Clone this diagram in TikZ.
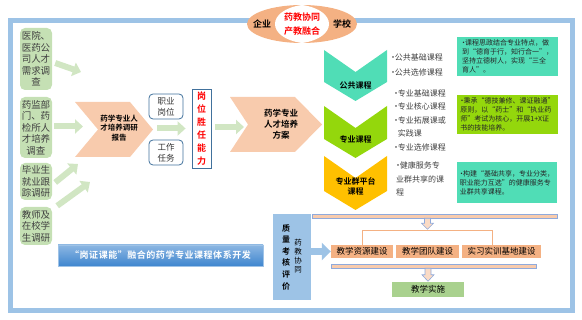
\documentclass[tikz,border=0pt]{standalone}
\usepackage{fontspec}
\setmainfont{Noto Sans CJK SC}[BoldFont={Noto Sans CJK SC Bold}]
\usetikzlibrary{arrows.meta,positioning,calc}
\definecolor{frameblue}{HTML}{9DC3E6}
\definecolor{leafgreen}{HTML}{C5E0B4}
\definecolor{peach}{HTML}{F8CBAD}
\definecolor{salmon}{HTML}{F4B183}
\definecolor{edgeblue}{HTML}{41719C}
\definecolor{barblue}{HTML}{8FAADC}
\definecolor{mint}{HTML}{50DDB6}
\definecolor{lime}{HTML}{94D70C}
\definecolor{gold}{HTML}{FFC000}
\definecolor{bannerblue}{HTML}{3F86CF}
\definecolor{sage}{HTML}{A9D18E}
\newcommand{\itemdot}{\makebox[0.45em]{•}}

\begin{document}
\begin{tikzpicture}[
    x=1pt, y=-1pt,
    srcbox/.style={rectangle, rounded corners=5pt, fill=leafgreen, minimum width=32, inner sep=0pt, align=center, text=black!75, font=\fontsize{9.5}{11.5}\selectfont},
    flow/.style={line width=6pt, draw=leafgreen!80, -{Triangle[width=14pt, length=8pt]}},
    postbox/.style={rectangle, rounded corners=4pt, draw=edgeblue, line width=0.8pt, fill=white, minimum width=34, minimum height=25, inner sep=0pt, align=center, text=black!80, font=\fontsize{8.5}{11}\selectfont},
    chevtext/.style={align=center, inner sep=0pt, font=\bfseries\fontsize{8}{10}\selectfont},
    headtext/.style={inner sep=0pt, align=center, font=\bfseries\fontsize{9}{14}\selectfont},
    courselist/.style={align=left, anchor=west, inner sep=0pt, text=black!75},
    note/.style={rectangle, minimum width=101, inner sep=0pt, align=left, text=black!85, font=\fontsize{7}{9}\selectfont},
    bar/.style={rectangle, fill=peach, draw=barblue, line width=0.6pt, minimum height=4, inner sep=0pt},
    buildbox/.style={rectangle, fill=salmon, minimum height=13, inner sep=0pt, font=\fontsize{8.5}{10}\selectfont},
    downarrow/.style={fill=peach!70, draw=barblue, line width=0.6pt}
]
    \useasboundingbox (0,0) rectangle (582,320);

    % Outer frame
    \draw[line width=5pt, frameblue] (10.5,20.5) rectangle (572.5,310.5);

    % Enterprise and school
    \fill[salmon] (302,24) ellipse [x radius=55, y radius=19];
    \begin{scope}
        \clip (302,24) ellipse [x radius=55, y radius=19];
        \fill[white] (302,5) .. controls (266,10) and (266,38) .. (302,43) .. controls (338,38) and (338,10) .. (302,5);
    \end{scope}
    \node[headtext] (ent) at (262,24) {企业};
    \node[headtext] (sch) at (342,24) {学校};
    \node[headtext, text=red] (union) at (302,24) {药教协同\\产教融合};

    % Surveys
    \node[srcbox, minimum height=62] (hosp) at (36,59) {医院、\\医药公\\司人才\\需求调\\查};
    \node[srcbox, minimum height=61] (drug) at (36,127.5) {药监部\\门、药\\检所人\\才培养\\调查};
    \node[srcbox, minimum height=37] (grad) at (36,181.5) {毕业生\\就业跟\\踪调研};
    \node[srcbox, minimum height=38] (teach) at (36,226) {教师及\\在校学\\生调研};

    % Research report
    \fill[peach] (75,102) -- (130,102) -- (153,129.5) -- (130,157) -- (75,157) -- (98,129.5) -- cycle;
    \node[chevtext, font=\bfseries\fontsize{7.5}{9.5}\selectfont] (report) at (119,128) {药学专业人\\才培养调研\\报告};
    \coordinate (repin1) at (81,72);
    \coordinate (repin2) at (83,126.5);
    \coordinate (repin3) at (78,164);
    \coordinate (repin4) at (90,182);
    \coordinate (reptip) at (153,128.5);

    \draw[flow] ([shift={(3,4)}]hosp.east) -- (repin1);
    \draw[flow] ([shift={(2,-1)}]drug.east) -- (repin2);
    \draw[flow] ([shift={(3,1)}]grad.east) -- (repin3);
    \draw[flow] ([shift={(5,-1)}]teach.north east) -- (repin4);

    % Posts and tasks
    \node[postbox] (post) at (166,106.5) {职业\\岗位};
    \node[postbox] (task) at (166,152.5) {工作\\任务};
    \node[rectangle, draw=edgeblue, line width=0.8pt, minimum width=19, minimum height=79, inner sep=0pt, align=center, text=red, font=\bfseries\fontsize{9}{13}\selectfont] (comp) at (201.5,128.5) {岗\\位\\胜\\任\\能\\力};
    \draw[flow] ([xshift=4]reptip) -- ([xshift=-6]comp.west |- reptip);

    % Training plan
    \fill[peach] (230,97) -- (295,97) -- (322,124.5) -- (295,152) -- (230,152) -- (248,124.5) -- cycle;
    \node[chevtext, font=\bfseries\fontsize{8.5}{11}\selectfont] (plan) at (281,124) {药学专业\\人才培养\\方案};
    \coordinate (planin) at (244,127);
    \draw[flow] ([shift={(4,-1.5)}]comp.east) -- (planin);

    % Course modules
    \fill[mint] (324,50) -- (355.5,72) -- (387,50) -- (387,82) -- (355.5,101) -- (324,82) -- cycle;
    \fill[lime] (324,106) -- (355.5,128) -- (387,106) -- (387,139) -- (355.5,158) -- (324,139) -- cycle;
    \fill[gold] (324,156) -- (355.5,178) -- (387,156) -- (387,191) -- (355.5,210) -- (324,191) -- cycle;
    \node[chevtext] (pub) at (355.5,85) {公共课程};
    \node[chevtext] (major) at (355.5,139) {专业课程};
    \node[chevtext] (group) at (355.5,186) {专业群平台\\课程};

    \node[courselist, font=\fontsize{8}{15}\selectfont] (publist) at (391,64.5) {\itemdot 公共基础课程\\\itemdot 公共选修课程};
    \node[courselist, font=\fontsize{8}{13.5}\selectfont] (majlist) at (394,120) {\itemdot 专业基础课程\\\itemdot 专业核心课程\\\itemdot 专业拓展课或\\\hspace*{0.45em}实践课\\\itemdot 专业选修课程};
    \node[courselist, font=\fontsize{8}{13.5}\selectfont] (grplist) at (396,179) {\itemdot 健康服务专\\业群共享的课\\程};

    % Notes
    \node[note, fill=mint, minimum height=39] (note1) at (507.5,56.5) {\itemdot 课程思政结合专业特点，做\\到“德育于行，知行合一”，\\坚持立德树人，实现“三全\\育人”。};
    \node[note, fill=lime, minimum height=39] (note2) at (507.5,114.5) {\itemdot 秉承“德技兼修、课证融通”\\原则，以“药士”和“执业药\\师”考试为核心，开展1+X证\\书的技能培养。};
    \node[note, fill=mint, minimum height=41, minimum width=100] (note3) at (507,182.5) {\itemdot 构建“基础共享，专业分类，\\职业能力互选”的健康服务专\\业群共享课程。};

    % Banner
    \node[rectangle, minimum width=205, minimum height=21, inner sep=0pt, top color=bannerblue!60!white, bottom color=bannerblue, draw=bannerblue!50!white, text=white, font=\bfseries\fontsize{9}{11}\selectfont\addfontfeature{LetterSpace=6}] (banner) at (160.5,255.5) {“岗证课能”融合的药学专业课程体系开发};

    % Quality evaluation
    \node[rectangle, fill=frameblue, minimum width=38, minimum height=86, inner sep=0pt] (qual) at (292,257) {};
    \node[align=center, inner sep=0pt, font=\bfseries\fontsize{8}{11.6}\selectfont] (qualtxt) at ([xshift=-6]qual.center) {质\\量\\考\\核\\评\\价};
    \node[align=center, inner sep=0pt, font=\fontsize{7.5}{9}\selectfont] (coop) at ([shift={(6,-1)}]qual.center) {药\\教\\协\\同};

    % Construction
    \node[bar, minimum width=245] (bar1) at (434.5,216) {};
    \node[buildbox, minimum width=62] (res) at (362,251.5) {教学资源建设};
    \node[buildbox, minimum width=63] (team) at (427.5,251.5) {教学团队建设};
    \node[buildbox, minimum width=79] (base) at (501.5,251.5) {实习实训基地建设};
    \node[bar, minimum width=205] (bar2) at (433.5,266) {};
    \node[rectangle, fill=sage, minimum width=72, minimum height=15, inner sep=0pt, font=\fontsize{8.5}{10}\selectfont] (impl) at (428,289.5) {教学实施};

    \draw[line width=7pt, frameblue, -{Triangle[width=17pt, length=9pt]}] (qual.east |- res.west) -- (res.west);
    \draw[downarrow] ($(team.north |- bar1.south)+(-3,0)$) -- ++(0,5) -- ++(-3,0) -- ++(6,6) -- ++(6,-6) -- ++(-3,0) -- ++(0,-5) -- cycle;
    \draw[salmon, line width=0.8pt] (res.north) -- ++(0,-14) -| ([xshift=-9.5]base.north);
    \draw[downarrow] ($(impl.north |- bar2.south)+(-3,0)$) -- ++(0,6.5) -- ++(-3,0) -- ++(6,6.5) -- ++(6,-6.5) -- ++(-3,0) -- ++(0,-6.5) -- cycle;
\end{tikzpicture}
\end{document}
